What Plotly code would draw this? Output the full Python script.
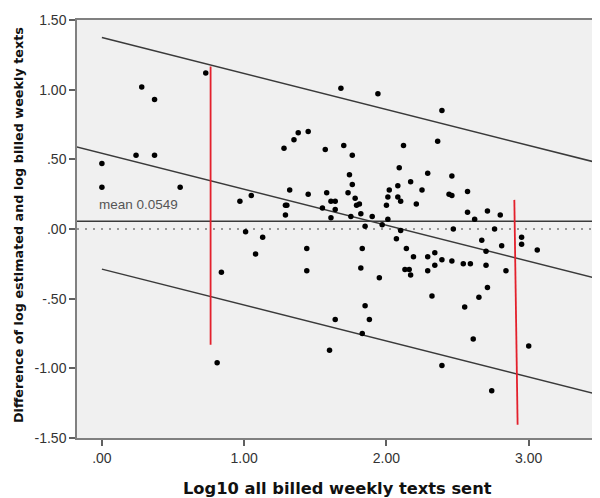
import plotly.graph_objects as go

# ---- data ----
log_texts = [0.00, 0.00, 0.28, 0.37, 0.24, 0.37, 0.55, 0.73, 0.97, 1.05,
             1.01, 1.13, 1.28, 1.35, 1.38, 1.45, 1.32, 1.29, 1.30, 1.29,
             1.57, 1.70, 1.74, 1.45, 1.58, 1.73, 1.61, 1.64, 1.55, 1.64,
             1.61, 1.76, 2.12, 2.36, 2.39, 2.09, 2.29, 1.76, 2.08, 2.17,
             2.02, 2.25, 2.44, 1.78, 2.01, 2.08, 2.10, 1.79, 1.81, 2.00,
             2.21, 1.82, 1.75, 1.90, 2.01, 2.46, 2.46, 2.57, 2.57, 2.71,
             2.80, 2.62, 1.08, 1.44, 1.44, 1.64, 1.85, 1.97, 2.10, 2.07,
             1.83, 2.14, 2.19, 2.29, 2.34, 2.39, 1.82, 2.13, 2.16, 2.17,
             2.29, 2.34, 1.95, 2.32, 1.85, 1.88, 2.47, 2.76, 2.95, 2.67,
             2.81, 2.95, 3.06, 2.70, 2.46, 2.54, 2.59, 2.70, 2.84, 2.71,
             2.65, 2.55, 3.00, 1.83, 1.60, 2.39, 2.61, 2.74, 0.84, 0.81,
             1.68, 1.94]
log_diff = [0.47, 0.30, 1.02, 0.93, 0.53, 0.53, 0.30, 1.12, 0.20, 0.24,
            -0.02, -0.06, 0.58, 0.64, 0.69, 0.70, 0.28, 0.17, 0.17, 0.10,
            0.57, 0.60, 0.39, 0.25, 0.26, 0.26, 0.20, 0.20, 0.15, 0.14,
            0.08, 0.53, 0.60, 0.63, 0.85, 0.44, 0.40, 0.32, 0.31, 0.34,
            0.28, 0.28, 0.25, 0.22, 0.23, 0.23, 0.20, 0.17, 0.18, 0.17,
            0.18, 0.11, 0.09, 0.09, 0.07, 0.38, 0.24, 0.27, 0.12, 0.13,
            0.10, 0.07, -0.18, -0.14, -0.30, -0.65, 0.02, 0.03, -0.01, -0.07,
            -0.14, -0.14, -0.20, -0.20, -0.17, -0.22, -0.28, -0.29, -0.29, -0.33,
            -0.30, -0.26, -0.35, -0.48, -0.55, -0.65, 0.00, 0.00, -0.06, -0.08,
            -0.12, -0.11, -0.15, -0.16, -0.23, -0.25, -0.25, -0.26, -0.30, -0.42,
            -0.49, -0.56, -0.84, -0.75, -0.87, -0.98, -0.79, -1.16, -0.31, -0.96,
            1.01, 0.97]

mean_diff = 0.0549
reg_intercept = 0.543
reg_slope = -0.258
reg_limit = 0.831
reg_x_center = [-0.2, 3.6]
reg_x_limits = [0.0, 3.6]

red1_x = [0.764, 0.764]
red1_y = [1.166, -0.831]
red2_x = [2.899, 2.922]
red2_y = [0.209, -1.405]

x_ticks = [0, 1, 2, 3]
x_ticktext = [".00", "1.00", "2.00", "3.00"]
y_ticks = [1.5, 1.0, 0.5, 0.0, -0.5, -1.0, -1.5]
y_ticktext = ["1.50", "1.00", ".50", ".00", "-.50", "-1.00", "-1.50"]

FONT = "Liberation Sans, Arial, sans-serif"
TITLE_FONT = "DejaVu Sans, Verdana, sans-serif"
LINE_COL = "#3a3a3a"

fig = go.Figure()

center_y = [reg_intercept + reg_slope * x for x in reg_x_center]
upper_y = [reg_intercept + reg_limit + reg_slope * x for x in reg_x_limits]
lower_y = [reg_intercept - reg_limit + reg_slope * x for x in reg_x_limits]

for xs, ys in [(reg_x_center, center_y), (reg_x_limits, upper_y), (reg_x_limits, lower_y)]:
    fig.add_trace(go.Scatter(x=xs, y=ys, mode="lines",
                             line=dict(color=LINE_COL, width=1.5),
                             hoverinfo="skip", showlegend=False))

for xs, ys in [(red1_x, red1_y), (red2_x, red2_y)]:
    fig.add_trace(go.Scatter(x=xs, y=ys, mode="lines",
                             line=dict(color="#e3202c", width=1.8),
                             hoverinfo="skip", showlegend=False))

fig.add_trace(go.Scatter(x=log_texts, y=log_diff, mode="markers",
                         marker=dict(color="black", size=5.5),
                         showlegend=False))

# zero reference (dotted) and mean line
fig.add_shape(type="line", xref="paper", x0=0, x1=1, yref="y", y0=0, y1=0,
              line=dict(color="#7a7a7a", width=1.5, dash="2px,6px"), layer="below")
fig.add_shape(type="line", xref="paper", x0=0, x1=1, yref="y", y0=mean_diff, y1=mean_diff,
              line=dict(color=LINE_COL, width=1.5), layer="below")

fig.add_annotation(x=-0.035, y=0.174, xref="x", yref="y", xanchor="left", yanchor="middle",
                   text="mean %.4f" % mean_diff, showarrow=False,
                   font=dict(family=FONT, size=13.5, color="#555555"))

fig.add_annotation(x=0.5, y=-0.12, xref="paper", yref="paper", xanchor="center",
                   yanchor="middle", text="<b>Log10 all billed weekly texts sent</b>",
                   showarrow=False, font=dict(family=TITLE_FONT, size=16.3, color="#111111"))
fig.add_annotation(x=-0.111, y=0.51, xref="paper", yref="paper", xanchor="center",
                   yanchor="middle", textangle=-90,
                   text="<b>Difference of log estimated and log billed weekly texts</b>",
                   showarrow=False, font=dict(family=TITLE_FONT, size=12.8, color="#111111"))

axis_common = dict(showgrid=False, zeroline=False, showline=True, linecolor="#808080",
                   linewidth=1.5, mirror=True, ticks="outside", ticklen=6,
                   tickcolor="#606060", tickwidth=1.5,
                   tickfont=dict(family=FONT, size=14, color="#333333"))

fig.update_xaxes(range=[-0.175, 3.48], tickvals=x_ticks, ticktext=x_ticktext, **axis_common)
fig.update_yaxes(range=[-1.5, 1.5], tickvals=y_ticks, ticktext=y_ticktext, **axis_common)

# page body adds an 8px offset, so the figure is sized to fit the window
fig.update_layout(width=592, height=490,
                  margin=dict(l=69, r=1, t=12, b=60),
                  plot_bgcolor="#f0f0f0", paper_bgcolor="white")

fig.write_html("out.html")
